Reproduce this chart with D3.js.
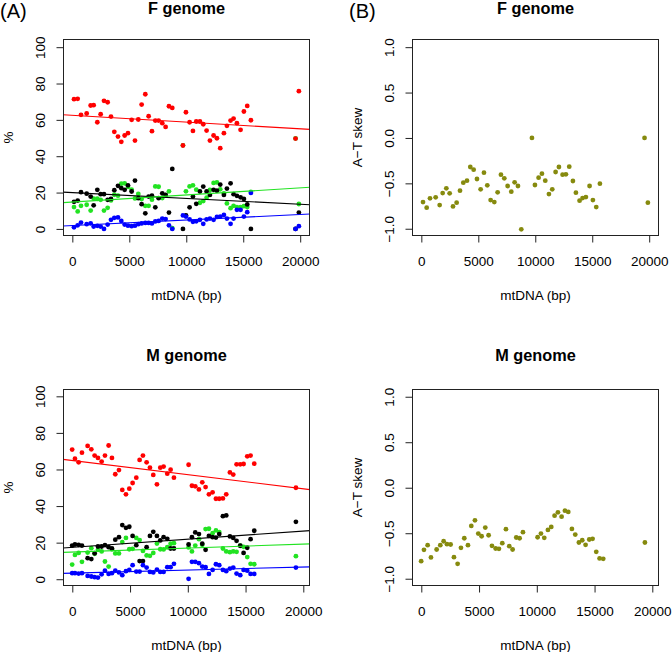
<!DOCTYPE html>
<html><head><meta charset="utf-8">
<script src="https://cdn.jsdelivr.net/npm/d3@7"></script>
<style>
html,body{margin:0;padding:0;background:#fff;}
svg{display:block;font-family:"Liberation Sans",Arial,sans-serif;}
</style></head>
<body>
<svg id="chart" width="672" height="652"></svg>
<script>
// ---------- DATA ----------
const posF = [146,468,760,1257,1608,1871,2193,2485,2778,3099,3392,3684,4006,4298,4591,4883,5205,5497,5789,6082,6404,6696,6988,7281,7573,7895,8187,8480,8772,9708,9971,10292,10585,10877,11199,11491,11784,12076,12398,12690,12982,13304,13567,13889,14152,14444,14766,15058,15351,15673,19591,19883];
const redF = [71.4,71.6,62.8,63.5,67.9,68.1,58.7,63.1,70.5,69.7,61.8,53.4,50.8,47.9,51.4,52.7,60.0,48.6,60.2,68.4,74.1,62.0,53.8,59.6,59.6,58.2,56.1,67.5,66.6,45.9,64.2,58.7,53.9,59.1,59.1,57.6,54.1,48.6,51.4,49.9,44.4,52.7,56.7,59.6,60.7,58.2,54.5,64.6,67.7,59.8,49.7,75.8];
const blackF = [14.9,15.6,20.2,19.4,17.8,13.0,21.5,19.1,19.1,16.0,16.5,21.3,23.7,22.4,21.5,24.0,20.6,26.6,16.9,13.6,8.6,17.8,18.3,11.9,16.9,19.6,18.7,9.0,33.0,0.0,7.5,11.9,17.8,13.8,20.6,23.3,20.6,18.7,21.5,21.0,24.4,18.7,22.2,25.1,19.1,18.2,17.4,16.5,13.5,0.0,0.0,9.0];
const greenF = [12.0,9.6,12.7,13.3,10.1,16.7,16.6,16.0,10.1,11.6,15.7,18.8,18.3,24.9,25.1,23.1,21.6,16.8,19.2,16.4,12.7,12.7,16.1,23.4,23.2,17.0,18.6,20.7,0.4,46.0,20.7,23.4,24.0,21.6,14.4,15.3,17.2,21.4,25.3,25.6,21.8,19.6,14.0,11.4,12.7,12.0,12.0,12.5,12.0,20.4,49.8,13.7];
const blueF = [0.9,2.0,3.5,2.6,3.1,1.3,1.7,1.3,0.0,2.4,5.0,6.1,6.3,4.4,2.4,1.8,1.5,1.8,2.6,3.0,3.3,3.3,3.0,4.1,4.4,5.7,5.4,2.0,0.0,7.4,6.8,5.2,3.9,4.2,5.0,2.8,5.2,5.7,5.0,6.6,6.8,7.7,5.7,2.8,5.7,10.5,10.5,6.8,9.2,19.8,0.0,1.5];
const skewF = [-0.706,-0.768,-0.665,-0.654,-0.739,-0.607,-0.555,-0.610,-0.754,-0.713,-0.581,-0.493,-0.471,-0.320,-0.349,-0.452,-0.566,-0.382,-0.522,-0.684,-0.706,-0.599,-0.404,-0.445,-0.529,-0.592,-0.489,-0.529,-1.007,0.0,-0.518,-0.438,-0.393,-0.471,-0.618,-0.566,-0.375,-0.320,-0.404,-0.401,-0.316,-0.474,-0.603,-0.691,-0.662,-0.651,-0.529,-0.684,-0.761,-0.504,0.0,-0.713];

const posM = [-12,231,548,837,1327,1645,1933,2222,2539,2828,3145,3433,3722,4040,4328,4645,4934,5222,5540,5828,6117,6434,6723,7011,7328,7617,7905,8223,8511,8800,10069,10358,10646,10963,11252,11540,11829,12147,12435,12723,13040,13329,13646,13935,14223,14541,14830,15147,15436,15753,19360];
const redM = [70.9,65.9,63.9,69.2,72.9,71.0,67.6,66.3,64.3,67.6,73.1,66.3,57.4,59.7,48.8,46.4,49.5,52.6,55.5,65.2,67.6,63.9,61.0,57.0,51.9,61.0,61.6,57.7,59.9,55.5,62.6,51.1,50.8,49.1,53.0,50.4,46.4,47.5,44.0,44.0,44.2,46.4,58.4,57.2,62.8,62.8,63.0,67.2,67.6,63.2,50.0];
const blackM = [18.4,19.0,18.8,18.4,11.5,11.0,14.2,17.9,17.9,18.6,17.5,16.8,21.6,23.0,29.6,28.1,28.7,23.7,18.6,9.9,9.9,17.5,23.7,25.9,23.7,21.2,23.0,22.1,16.8,16.8,19.0,23.0,25.6,24.7,19.4,16.1,23.7,23.0,22.8,24.7,34.5,34.9,23.4,22.6,21.0,18.3,14.4,17.2,21.9,26.5,31.4];
const greenM = [8.0,13.3,14.4,9.5,14.6,17.0,13.9,16.1,15.2,9.7,6.9,16.4,14.1,14.1,20.3,22.6,16.4,16.6,22.6,21.4,15.5,13.0,12.8,14.4,19.5,16.4,16.3,17.5,19.4,19.7,17.4,15.2,18.4,21.9,18.8,27.4,27.6,25.2,26.7,25.8,16.8,15.2,14.8,15.2,15.0,18.4,17.7,12.1,8.4,8.2,12.6];
const blueM = [3.3,3.3,3.1,3.3,1.8,1.5,1.1,0.9,2.7,4.7,2.9,3.3,4.7,3.7,2.2,4.4,5.1,7.7,4.2,4.2,7.7,6.4,4.0,3.7,5.3,4.0,4.0,6.6,6.6,8.4,0.2,9.5,9.5,8.8,6.9,6.6,2.9,5.1,8.2,7.7,5.1,4.4,5.8,6.4,3.1,2.2,5.1,4.7,2.9,2.9,6.4];
const skewM = [-0.807,-0.682,-0.631,-0.766,-0.679,-0.631,-0.588,-0.620,-0.624,-0.763,-0.836,-0.661,-0.555,-0.631,-0.420,-0.358,-0.504,-0.533,-0.438,-0.522,-0.639,-0.668,-0.672,-0.609,-0.456,-0.642,-0.679,-0.547,-0.555,-0.489,-0.544,-0.504,-0.551,-0.464,-0.431,-0.307,-0.270,-0.318,-0.252,-0.266,-0.453,-0.515,-0.602,-0.577,-0.628,-0.569,-0.562,-0.704,-0.777,-0.781,-0.602];

const seriesColors = {red:"#ff0000", black:"#000000", green:"#22e322", blue:"#0000ff"};
const skewColor = "#868a0e";
const xTicks = [0,5000,10000,15000,20000];
const pctTicks = [0,20,40,60,80,100];
const skewTicks = [-1,-0.5,0,0.5,1];
const titles = ["F genome","M genome"];
const panelLabels = ["(A)","(B)"];

// ---------- LAYOUT ----------
const svg = d3.select("#chart");
const cols = [{x0:63,x1:310},{x0:412,x1:659}];
const rows = [{y0:39,y1:236, xdom:[-820,20860], ty:14},{y0:389,y1:586, xdom:[-805,20580], ty:361}];
const pctDom = [[-3.9,104.5],[-3.7,104]];
const skewDom = [[-1.08,1.09],[-1.08,1.085]];
const FS = 13.5;
const R = 2.4;
const minus = s => s.replace("-","\u2212");

function fit(xs, ys){
  const pts = xs.map((x,i)=>[x,ys[i]]).filter(p=>p[1]!=null);
  const mx = d3.mean(pts,p=>p[0]), my = d3.mean(pts,p=>p[1]);
  const b = d3.sum(pts,p=>(p[0]-mx)*(p[1]-my))/d3.sum(pts,p=>(p[0]-mx)**2);
  return {a: my-b*mx, b};
}

function panel(ci, ri, kind){
  const c = cols[ci], r = rows[ri];
  const x = d3.scaleLinear().domain(r.xdom).range([c.x0,c.x1]);
  const ydom = kind==="pct" ? pctDom[ri] : skewDom[ri];
  const y = d3.scaleLinear().domain(ydom).range([r.y1,r.y0]);
  const g = svg.append("g");
  const id = "clip"+ci+ri;
  svg.append("clipPath").attr("id",id).append("rect")
    .attr("x",c.x0).attr("y",r.y0).attr("width",c.x1-c.x0).attr("height",r.y1-r.y0);

  const xs = ri===0 ? posF : posM;
  if(kind==="pct"){
    const sets = ri===0
      ? {green:greenF, black:blackF, blue:blueF, red:redF}
      : {green:greenM, black:blackM, blue:blueM, red:redM};
    const order = ["green","black","blue","red"];
    order.forEach(k=>{
      g.append("g").selectAll("circle")
        .data(xs.map((px,i)=>({px,v:sets[k][i]})).filter(d=>d.v!=null))
        .join("circle").attr("cx",d=>x(d.px)).attr("cy",d=>y(d.v)).attr("r",R)
        .attr("fill",seriesColors[k]);
    });
    ["red","black","green","blue"].forEach(k=>{
      const f = fit(xs, sets[k]);
      g.append("line").attr("clip-path",`url(#${id})`)
        .attr("x1",x(r.xdom[0])).attr("x2",x(r.xdom[1]))
        .attr("y1",y(f.a+f.b*r.xdom[0])).attr("y2",y(f.a+f.b*r.xdom[1]))
        .attr("stroke",seriesColors[k]).attr("stroke-width",1.1);
    });
  } else {
    const vals = ri===0 ? skewF : skewM;
    g.append("g").selectAll("circle").data(xs.map((px,i)=>({px,v:vals[i]})))
      .join("circle").attr("cx",d=>x(d.px)).attr("cy",d=>y(d.v)).attr("r",R)
      .attr("fill",skewColor);
  }
  // box
  g.append("rect").attr("x",c.x0+0.5).attr("y",r.y0+0.5)
    .attr("width",c.x1-c.x0-1).attr("height",r.y1-r.y0-1)
    .attr("fill","none").attr("stroke","#222").attr("stroke-width",1);

  // x axis
  const xa = d3.axisBottom(x).tickValues(xTicks).tickSize(7).tickFormat(d3.format("d"));
  const gx = g.append("g").attr("transform",`translate(0,${r.y1-0.5})`).call(xa);
  gx.select(".domain").attr("d",`M${x(0)},0H${x(20000)}`).attr("stroke","#222");
  gx.selectAll(".tick line").attr("stroke","#222");
  gx.selectAll(".tick text").attr("y",null).attr("dy",null)
    .attr("transform","translate(0,30)").attr("font-size",FS).attr("fill","#000")
    .attr("font-family","Liberation Sans, Arial, sans-serif");

  // y axis
  const ticks = kind==="pct" ? pctTicks : skewTicks;
  const ya = d3.axisLeft(y).tickValues(ticks).tickSize(7)
    .tickFormat(kind==="pct" ? d3.format("d") : (d=>minus(d3.format(".1f")(d))));
  const gy = g.append("g").attr("transform",`translate(${c.x0+0.5},0)`).call(ya);
  gy.select(".domain").attr("d",`M0,${y(ticks[0])}V${y(ticks[ticks.length-1])}`).attr("stroke","#222");
  gy.selectAll(".tick line").attr("stroke","#222");
  gy.selectAll(".tick text").attr("x",null).attr("dy",null)
    .attr("text-anchor","middle")
    .attr("transform","translate(-18.5,0) rotate(-90)")
    .attr("font-size",FS).attr("fill","#000")
    .attr("font-family","Liberation Sans, Arial, sans-serif");

  // labels
  g.append("text").attr("x",(c.x0+c.x1)/2).attr("y",r.y1+64)
    .attr("text-anchor","middle").attr("font-size",FS).text("mtDNA (bp)");
  const ycx = c.x0-50, ycy=(r.y0+r.y1)/2;
  g.append("text").attr("transform",`translate(${ycx},${ycy}) rotate(-90)`)
    .attr("text-anchor","middle").attr("font-size",FS)
    .text(kind==="pct" ? "%" : "A\u2212T skew");
  g.append("text").attr("x",(c.x0+c.x1)/2).attr("y",r.ty)
    .attr("text-anchor","middle").attr("font-size",16.3).attr("font-weight","bold")
    .text(titles[ri]);
}

panel(0,0,"pct"); panel(1,0,"skew");
panel(0,1,"pct"); panel(1,1,"skew");

svg.append("text").attr("x",0).attr("y",18).attr("font-size",20).text(panelLabels[0]);
svg.append("text").attr("x",349).attr("y",18).attr("font-size",20).text(panelLabels[1]);
</script>
</body></html>
